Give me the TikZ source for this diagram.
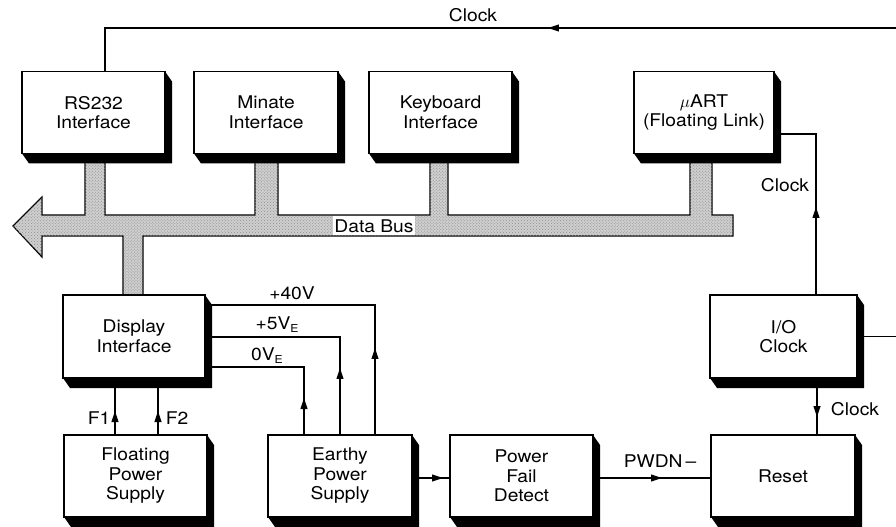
\documentclass[tikz,border=0pt]{standalone}
\usepackage{fontspec}
\setmainfont{TeX Gyre Heros}[FakeStretch=1.1]
\usetikzlibrary{arrows.meta,calc,decorations.markings,patterns,backgrounds}
\newcommand\subE{\raisebox{-3bp}{\fontsize{11bp}{11bp}\selectfont E}}
\newcommand\dropshade[1]{\fill (#1.north east) -- ++(7,10) -- ($(#1.south east)+(7,10)$) -- ($(#1.south west)+(7,10)$) -- (#1.south west) -- (#1.south east) -- cycle;}
\tikzset{
 blk/.style={draw, line width=1.2bp, fill=white, minimum width=143bp, minimum height=82bp,
   inner sep=0pt, outer sep=0pt, align=center, font=\fontsize{17.5bp}{19.5bp}\selectfont},
 wire/.style={line width=1.1bp},
 arr/.style={postaction={decorate}, decoration={markings,
   mark=at position #1 with {\arrow{Triangle[length=11bp,width=7bp]}}}},
 lbl/.style={font=\fontsize{17.5bp}{19.5bp}\selectfont, inner sep=0pt},
 bus/.style={draw, line width=1.2bp, fill=gray!38,
   postaction={pattern=crosshatch dots, pattern color=black!45}},
}
\begin{document}
\begin{tikzpicture}[x=1bp, y=-1bp]
\useasboundingbox (0,0) rectangle (896,527);
% data bus
\path[bus] (13,226) -- (42,197) -- (42,215) -- (85,215) -- (85,160) -- (105,160) -- (105,215)
  -- (255,215) -- (255,160) -- (278,160) -- (278,215) -- (430,215) -- (430,160) -- (448,160)
  -- (448,215) -- (690,215) -- (690,160) -- (712,160) -- (712,215) -- (733,215) -- (733,236)
  -- (143,236) -- (143,297) -- (123,297) -- (123,236) -- (42,236) -- (42,257) -- cycle;
\node[fill=white, inner sep=1bp, minimum height=19bp, font=\fontsize{17.5bp}{17.5bp}\selectfont] (db) at (374,226) {Data Bus};
% blocks
\node[blk] (rs) at (93.5,112.5) {RS232\\Interface};
\node[blk, minimum width=144bp] (mi) at (266,112.5) {Minate\\Interface};
\node[blk] (kb) at (440.5,112.5) {Keyboard\\Interface};
\node[blk, minimum width=140bp] (ua) at (704,112.5) {$\mu$ART\\(Floating Link)};
\node[blk, minimum width=142bp, minimum height=83bp] (di) at (134,336.5) {Display\\Interface};
\node[blk] (fp) at (135.5,476) {Floating\\Power\\Supply};
\node[blk, minimum width=144bp] (ep) at (340,476) {Earthy\\Power\\Supply};
\node[blk] (pf) at (521.5,476) {Power\\Fail\\Detect};
\node[blk, minimum width=144bp] (rt) at (783,476) {Reset};
\node[blk, minimum width=147bp, minimum height=83bp] (io) at (783.5,336.5) {I/O\\Clock};
\foreach \n in {rs,mi,kb,ua,di,fp,ep,pf,rt,io} {\dropshade{\n}}
% labels
\node[lbl] (lck1) at (473,15) {Clock};
\node[lbl] (lck2) at (785,185) {Clock};
\node[lbl] (lck3) at (855,409) {Clock};
\node[lbl] (lpw) at (660,461) {PWDN\,–};
\node[lbl] (l40) at (292,293) {+40V};
\node[lbl] (l5) at (277,325) {+5V\subE};
\node[lbl] (l0) at (267,356) {0V\subE};
\node[lbl] (lf1) at (99,418) {F1};
\node[lbl] (lf2) at (177,418) {F2};
% connectors
\begin{pgfonlayer}{background}
\coordinate (tR) at (897,28);
\coordinate (tL) at (105,28);
\draw[wire, arr=697.5bp] (io.east) -- (io.east -| tR) -- (tR) -- (tL) -- (tL |- rs.north);
\coordinate (uc) at (816,134);
\draw[wire, arr=88bp] (uc |- io.north) -- (uc) -- (uc -| ua.east);
\coordinate (ic) at (817,0);
\draw[wire, arr=39bp] (ic |- io.south) -- (ic |- rt.north);
\coordinate (py) at (0,478);
\draw[wire, arr=69bp] (pf.east |- py) -- (rt.west |- py);
\draw[wire, arr=31bp] (ep.east |- py) -- (pf.west |- py);
\coordinate (v40) at (375,305);
\draw[wire, arr=87bp] (v40 |- ep.north) -- (v40) -- (v40 -| di.east);
\coordinate (v5) at (340,337);
\draw[wire, arr=67bp] (v5 |- ep.north) -- (v5) -- (v5 -| di.east);
\coordinate (v0) at (304,367);
\draw[wire, arr=37bp] (v0 |- ep.north) -- (v0) -- (v0 -| di.east);
\coordinate (f1) at (115,0);
\coordinate (f2) at (158,0);
\draw[wire, arr=24bp] (f1 |- fp.north) -- (f1 |- di.south);
\draw[wire, arr=24bp] (f2 |- fp.north) -- (f2 |- di.south);
\end{pgfonlayer}
\end{tikzpicture}
\end{document}
